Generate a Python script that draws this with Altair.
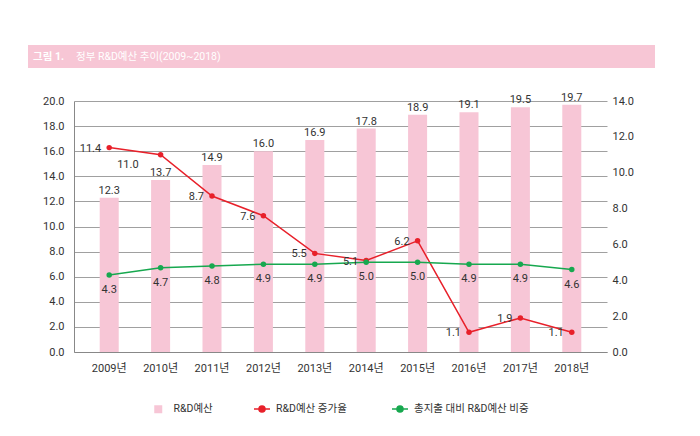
import altair as alt
import pandas as pd

years = ['2009년', '2010년', '2011년', '2012년', '2013년', '2014년', '2015년', '2016년', '2017년', '2018년']
budget = [12.3, 13.7, 14.9, 16.0, 16.9, 17.8, 18.9, 19.1, 19.5, 19.7]
growth = [11.4, 11.0, 8.7, 7.6, 5.5, 5.1, 6.2, 1.1, 1.9, 1.1]
share = [4.3, 4.7, 4.8, 4.9, 4.9, 5.0, 5.0, 4.9, 4.9, 4.6]

left_ticks = [0, 2, 4, 6, 8, 10, 12, 14, 16, 18, 20]
right_ticks = [0, 2, 4, 6, 8, 10, 12, 14]

s_budget = 'R&D예산'
s_growth = 'R&D예산 증가율'
s_share = '총지출 대비 R&D예산 비중'
title_a = '그림 1.'
title_b = '정부 R&D예산 추이(2009~2018)'

df = pd.DataFrame({'year': years, 'budget': budget, 'growth': growth, 'share': share})

FONT = "Roboto, 'Noto Sans CJK KR', sans-serif"
PINK = '#f7c6d6'
RED = '#e8202a'
GREEN = '#17a84f'
TXT = '#333333'

x_axis = alt.Axis(labelAngle=0, labelPadding=10, tickSize=0, domainColor='#888888',
                  labelColor=TXT, labelFontSize=11, labelFont=FONT)
x_scale = alt.Scale(paddingInner=0.63, paddingOuter=0.5)

def X():
    return alt.X('year:N', sort=years, title=None, scale=x_scale, axis=x_axis)

left_axis = alt.Axis(orient='left', values=left_ticks, format='.1f', labelOverlap=False,
                     tickSize=0, labelPadding=10, domainColor='#888888', gridColor='#a0a0a0',
                     labelColor=TXT, labelFontSize=11, labelFont=FONT)
right_axis = alt.Axis(orient='right', values=right_ticks, format='.1f', labelOverlap=False,
                      tickSize=0, labelPadding=5, domain=False, grid=False,
                      labelColor=TXT, labelFontSize=11, labelFont=FONT)

def YL(f):
    return alt.Y(f'{f}:Q', title=None, scale=alt.Scale(domain=[0, 20]), axis=left_axis)

def YR(f):
    return alt.Y(f'{f}:Q', title=None, scale=alt.Scale(domain=[0, 14]), axis=right_axis)

base = alt.Chart(df)

# left group: bars
bars = base.mark_bar(color=PINK).transform_calculate(s=f"'{s_budget}'").encode(
    x=X(), y=YL('budget'),
    color=alt.Color('s:N', title=None, scale=alt.Scale(domain=[s_budget], range=[PINK]),
                    legend=alt.Legend(orient='none', legendX=79, legendY=303, symbolType='square',
                                      symbolSize=64, symbolStrokeWidth=0, labelFontSize=10.5,
                                      labelColor=TXT, labelFont=FONT, labelOffset=10, padding=0))
)
bar_text = base.mark_text(baseline='bottom', dy=-2, fontSize=11, color=TXT, font=FONT).encode(
    x=X(), y=YL('budget'), text=alt.Text('budget:Q', format='.1f'))
left = alt.layer(bars, bar_text)

LINE_PATH = 'M-1,0H1M0,-0.38A0.38,0.38 0 1,1 0,0.38A0.38,0.38 0 1,1 0,-0.38Z'

def line_legend(x, color):
    return alt.Legend(orient='none', legendX=x, legendY=299, symbolType=LINE_PATH, symbolSize=256,
                      symbolStrokeColor=color, symbolFillColor=color, symbolStrokeWidth=1.5,
                      labelFontSize=10.5, labelColor=TXT, labelFont=FONT, labelOffset=5, padding=0)

red_base = base.transform_calculate(s=f"'{s_growth}'")
red_color = alt.Color('s:N', title=None, scale=alt.Scale(domain=[s_growth], range=[RED]),
                      legend=line_legend(179, RED))
red_line = red_base.mark_line(strokeWidth=1.5).encode(x=X(), y=YR('growth'), color=red_color)
red_pts = red_base.mark_circle(size=30, opacity=1).encode(x=X(), y=YR('growth'), color=red_color)
red = alt.layer(red_line, red_pts)

green_base = base.transform_calculate(s=f"'{s_share}'")
green_color = alt.Color('s:N', title=None, scale=alt.Scale(domain=[s_share], range=[GREEN]),
                        legend=line_legend(317, GREEN))
green_line = green_base.mark_line(strokeWidth=1.5).encode(x=X(), y=YR('share'), color=green_color)
green_pts = green_base.mark_circle(size=30, opacity=1).encode(x=X(), y=YR('share'), color=green_color)
green = alt.layer(green_line, green_pts)

red_text = base.transform_filter(alt.datum.year != '2010년').mark_text(
    align='right', dx=-8, dy=1, fontSize=11, color=TXT, font=FONT).encode(
    x=X(), y=YR('growth'), text=alt.Text('growth:Q', format='.1f'))
red_text2 = base.transform_filter(alt.datum.year == '2010년').mark_text(
    align='right', dx=-22, dy=10, fontSize=11, color=TXT, font=FONT).encode(
    x=X(), y=YR('growth'), text=alt.Text('growth:Q', format='.1f'))
green_text = base.mark_text(dy=15, fontSize=11, color=TXT, font=FONT).encode(
    x=X(), y=YR('share'), text=alt.Text('share:Q', format='.1f'))

right = alt.layer(red, green, red_text, red_text2, green_text).resolve_scale(color='independent')

tdf = pd.DataFrame({'a': [title_a], 'b': [title_b]})
band = alt.Chart(tdf).mark_rect(color='#f7c6d5').encode(
    x=alt.value(-46), x2=alt.value(581), y=alt.value(-56), y2=alt.value(-33))
t1 = alt.Chart(tdf).mark_text(align='left', baseline='middle', color='white', fontSize=10.5,
                              fontWeight='bold', font=FONT).encode(
    x=alt.value(-41), y=alt.value(-44), text='a:N')
t2 = alt.Chart(tdf).mark_text(align='left', baseline='middle', color='white', fontSize=10.5,
                              font=FONT).encode(
    x=alt.value(2), y=alt.value(-44), text='b:N')

chart = alt.layer(band, t1, t2, left, right).resolve_scale(
    y='independent', color='independent'
).properties(
    width=533, height=251,
    autosize=alt.AutoSizeParams(type='none'),
    padding={'left': 74, 'top': 101, 'right': 93, 'bottom': 84}
).configure_view(stroke=None)

chart.save('out.html', embed_options={'renderer': 'svg', 'actions': False})
